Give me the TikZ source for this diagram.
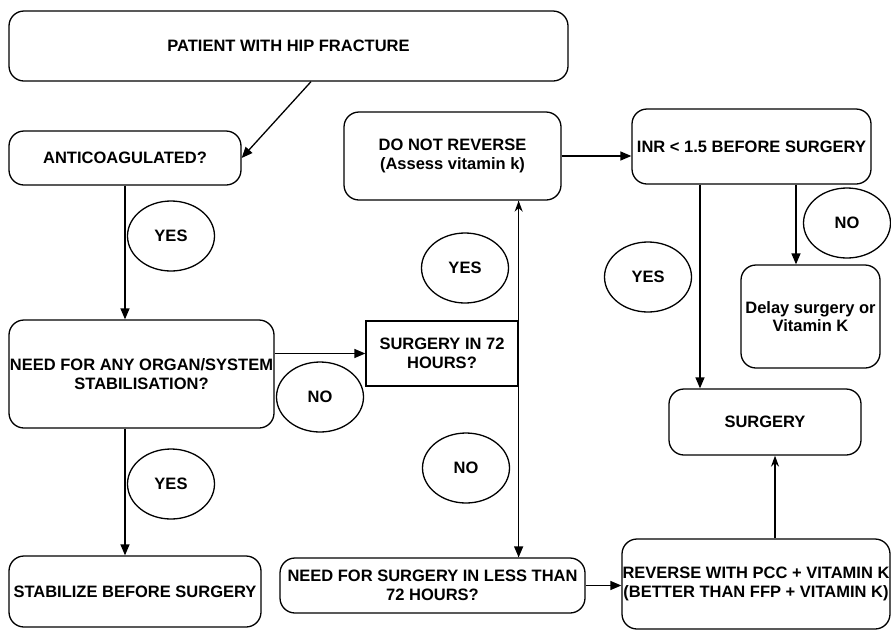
\documentclass[tikz,border=0pt]{standalone}
\usepackage{fontspec}
\setmainfont{Liberation Sans}
\usepackage{tikz}
\usetikzlibrary{shapes.geometric, arrows.meta}

\begin{document}
\begin{tikzpicture}[x=1pt, y=-1pt, line width=1.3pt,
  every node/.style={font=\fontsize{16.5}{18.5}\selectfont\bfseries, align=center, inner sep=0.5pt},
  box/.style={draw, rounded corners=15pt},
  sqbox/.style={draw},
  answer/.style={draw, ellipse, minimum width=87pt, minimum height=70pt},
  arr/.style={-{Triangle[length=11pt,width=9pt]}},
  uparr/.style={-{Stealth[length=11pt,width=8pt]}}]

\useasboundingbox (0,0) rectangle (891,630);

% left column
\node[box, minimum width=559pt, minimum height=70pt] (patient) at (288.5,46) {PATIENT WITH HIP FRACTURE};
\node[box, minimum width=232pt, minimum height=54pt] (anticoag) at (125,158) {ANTICOAGULATED?};
\node[box, minimum width=265pt, minimum height=108pt] (organ) at (141.5,374) {NEED FOR ANY ORGAN/SYSTEM\\STABILISATION?};
\node[box, minimum width=252pt, minimum height=71pt] (stabilize) at (135,591.5) {STABILIZE BEFORE SURGERY};

% middle column
\node[box, minimum width=217pt, minimum height=88pt] (noreverse) at (452.5,156) {DO NOT REVERSE\\(Assess vitamin k)};
\node[sqbox, minimum width=152pt, minimum height=65pt] (surg72) at (442,353.5) {SURGERY IN 72\\HOURS?};
\node[box, minimum width=305pt, minimum height=55pt] (lessthan) at (432.5,585.5) {NEED FOR SURGERY IN LESS THAN\\72 HOURS?};

% right column
\node[box, minimum width=239pt, minimum height=75pt] (inr) at (751.5,146.5) {INR < 1.5 BEFORE SURGERY};
\node[box, minimum width=139pt, minimum height=103pt] (delay) at (810.5,316.5) {Delay surgery or\\Vitamin K};
\node[box, minimum width=192pt, minimum height=66pt] (surgery) at (765,422) {SURGERY};
\node[box, minimum width=268pt, minimum height=90pt] (reverse) at (756,584) {REVERSE WITH PCC + VITAMIN K\\(BETTER THAN FFP + VITAMIN K)};

% answers
\node[answer] (yesA) at (171,236) {YES};
\node[answer] (yesB) at (171,484) {YES};
\node[answer] (noA) at (320,397) {NO};
\node[answer] (yesC) at (465,268) {YES};
\node[answer] (noB) at (466,468) {NO};
\node[answer] (yesD) at (648,277) {YES};
\node[answer] (noC) at (847,223) {NO};

% connections
\draw[arr] ([xshift=22.5pt]patient.south) -- (anticoag.east);
\draw[arr] (anticoag.south) -- (anticoag.south |- organ.north);
\draw[arr] (anticoag.south |- organ.south) -- (anticoag.south |- stabilize.north);
\draw[arr] (organ.east |- surg72.west) -- (surg72.west);
\draw[uparr] (surg72.east |- lessthan.north) -- (surg72.east |- noreverse.south);
\draw[arr] (surg72.east |- noreverse.south) -- (surg72.east |- lessthan.north);
\draw[arr] (noreverse.east) -- (inr.west |- noreverse.east);
\draw[arr] ([xshift=-51.5pt]inr.south) -- ([xshift=-51.5pt]inr.south |- surgery.north);
\draw[arr] ([xshift=44.5pt]inr.south) -- ([xshift=44.5pt]inr.south |- delay.north);
\draw[arr] (lessthan.east) -- (reverse.west |- lessthan.east);
\draw[uparr] ([xshift=19pt]reverse.north) -- ([xshift=19pt]reverse.north |- surgery.south);

\end{tikzpicture}
\end{document}
